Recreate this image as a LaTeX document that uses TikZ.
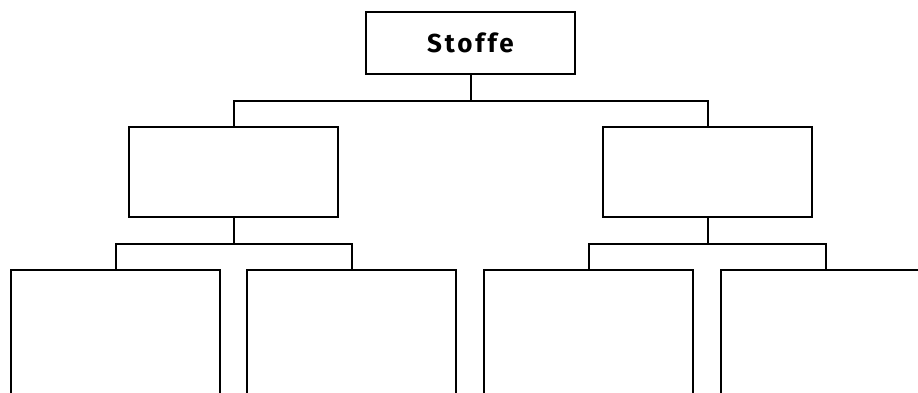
\documentclass[tikz,border=0pt]{standalone}
\usepackage{fontspec}
\setmainfont{Fira Sans}
\newfontfamily\titlefont[LetterSpace=11]{Fira Sans}
\begin{document}
\begin{tikzpicture}[x=1pt,y=-1pt,
  box/.style={draw=black,line width=2pt,fill=white,rectangle,inner sep=0pt},
  link/.style={draw=black,line width=2pt,line cap=rect}]
\useasboundingbox (0,0) rectangle (918,392);
\clip (0,0) rectangle (918,392);
% root
\node[box,minimum width=209pt,minimum height=62pt] (root) at (470.5,42.5)
  {\titlefont\fontsize{26}{28}\selectfont\bfseries Stoffe};
% second level
\node[box,minimum width=209pt,minimum height=90pt] (l) at (233.5,172) {};
\node[box,minimum width=209pt,minimum height=90pt] (r) at (707.5,172) {};
% third level (boxes run past the lower edge)
\node[box,minimum width=209pt,minimum height=160pt,anchor=north] (l1) at (115.5,269) {};
\node[box,minimum width=209pt,minimum height=160pt,anchor=north] (l2) at (351.5,269) {};
\node[box,minimum width=209pt,minimum height=160pt,anchor=north] (r1) at (588.5,269) {};
\node[box,minimum width=209pt,minimum height=160pt,anchor=north] (r2) at (825.5,269) {};
% connectors
\draw[link] (root.south) -- ++(0,26) -| (l.north);
\draw[link] (root.south) ++(0,26) -| (r.north);
\draw[link] (l.south) -- ++(0,26) -| (l1.north);
\draw[link] (l.south) ++(0,26) -| (l2.north);
\draw[link] (r.south) -- ++(0,26) -| (r1.north);
\draw[link] (r.south) ++(0,26) -| (r2.north);
\end{tikzpicture}
\end{document}
